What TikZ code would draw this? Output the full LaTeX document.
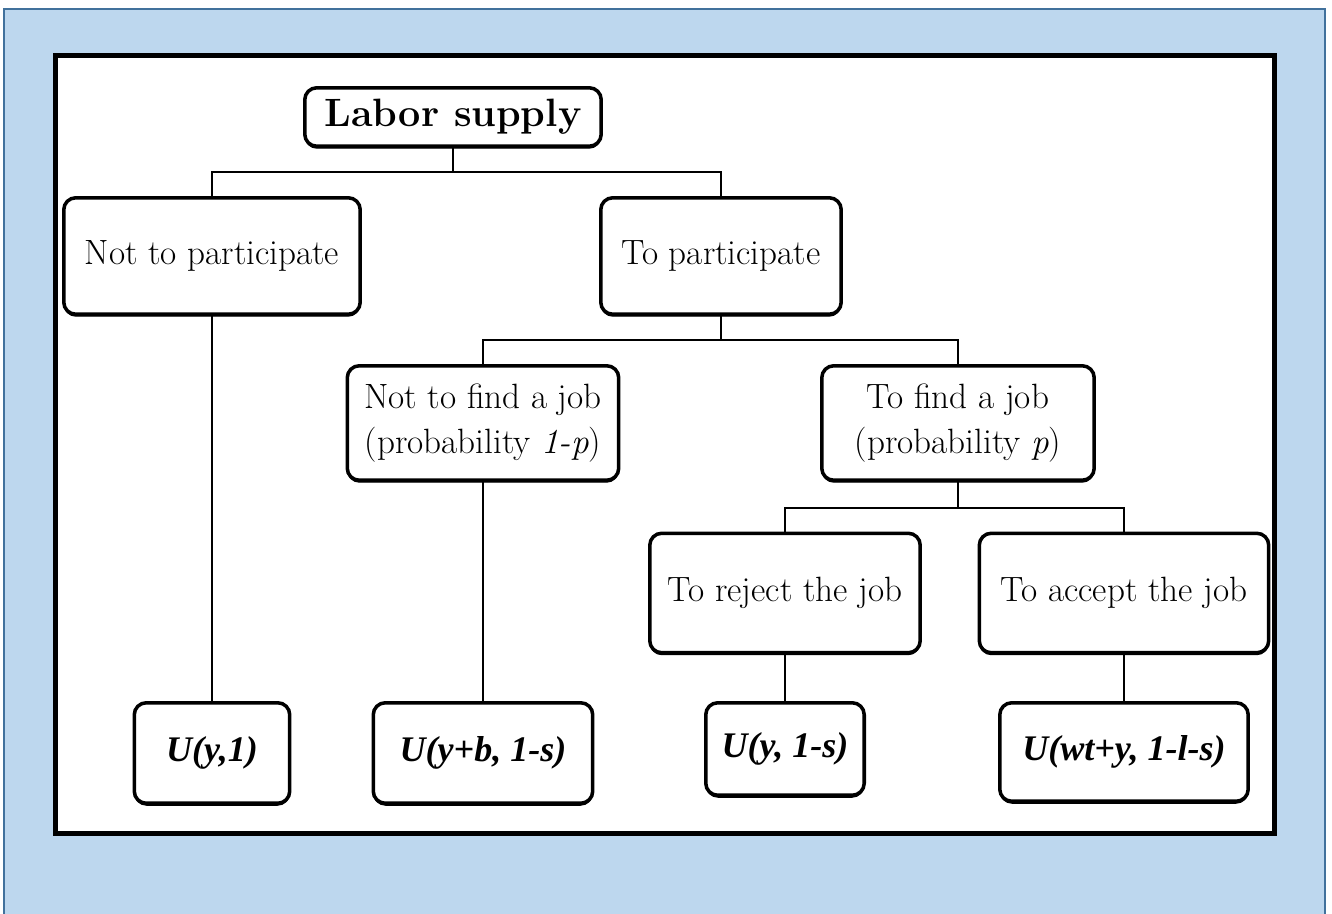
\documentclass[tikz,border=0pt]{standalone}
\usepackage{fontspec}
\newfontfamily\utilfont{Liberation Serif}
\usetikzlibrary{shadows}
\definecolor{panelblue}{HTML}{BDD7EE}
\definecolor{paneledge}{HTML}{41719C}
\tikzset{
	box/.style={draw, line width=2pt, rounded corners=0.24cm, fill=white, align=center, inner sep=0pt,
		drop shadow={shadow xshift=0pt, shadow yshift=-0.05cm, opacity=1, fill=black},
		font=\fontsize{20}{25.6}\selectfont},
	ubox/.style={box, font=\utilfont\fontsize{20.5}{24}\selectfont\bfseries\itshape},
	link/.style={line width=1.2pt},
}
\begin{document}
\begin{tikzpicture}[x=0.02cm,y=-0.02cm]
	\clip (0,0) rectangle (1332,913);
	\fill[white] (0,0) rectangle (1332,913);
	\draw[paneledge, line width=1.2pt, fill=panelblue] (4,9) rectangle (1325,940);
	\draw[line width=2.8pt, fill=white] (55.5,55.5) rectangle (1274.5,833.5);

	\node[box, minimum width=5.93cm, minimum height=1.17cm, font=\fontsize{22.5}{26}\selectfont\bfseries] (labor) at (453,117) {Labor supply};
	\node[box, minimum width=5.93cm, minimum height=2.33cm] (notpart) at (212,256) {Not to participate};
	\node[box, minimum width=4.81cm, minimum height=2.33cm] (part) at (721,256) {To participate};
	\node[box, minimum width=5.43cm, minimum height=2.29cm] (nofind) at (483,423) {Not to find a job\\(probability \textit{1-p})};
	\node[box, minimum width=5.45cm, minimum height=2.29cm] (find) at (958,423) {To find a job\\(probability \textit{p})};
	\node[box, minimum width=5.41cm, minimum height=2.39cm] (reject) at (785,593) {To reject the job};
	\node[box, minimum width=5.79cm, minimum height=2.39cm] (accept) at (1124,593) {To accept the job};
	\node[ubox, minimum width=3.11cm, minimum height=2.01cm] (u1) at (212,753) {U(y,1)};
	\node[ubox, minimum width=4.39cm, minimum height=2.01cm] (u2) at (483,753) {U(y+b, 1-s)};
	\node[ubox, minimum width=3.17cm, minimum height=1.85cm] (u3) at (785,749) {U(y, 1-s)};
	\node[ubox, minimum width=4.97cm, minimum height=1.97cm] (u4) at (1124,752) {U(wt+y, 1-l-s)};

	\draw[link] (labor.south) -- ++(0,24) -| (notpart.north);
	\draw[link] (labor.south) -- ++(0,24) -| (part.north);
	\draw[link] (part.south) -- ++(0,24) -| (nofind.north);
	\draw[link] (part.south) -- ++(0,24) -| (find.north);
	\draw[link] (find.south) -- ++(0,26) -| (reject.north);
	\draw[link] (find.south) -- ++(0,26) -| (accept.north);
	\draw[link] (notpart.south) -- (u1.north);
	\draw[link] (nofind.south) -- (u2.north);
	\draw[link] (reject.south) -- (u3.north);
	\draw[link] (accept.south) -- (u4.north);
\end{tikzpicture}
\end{document}
